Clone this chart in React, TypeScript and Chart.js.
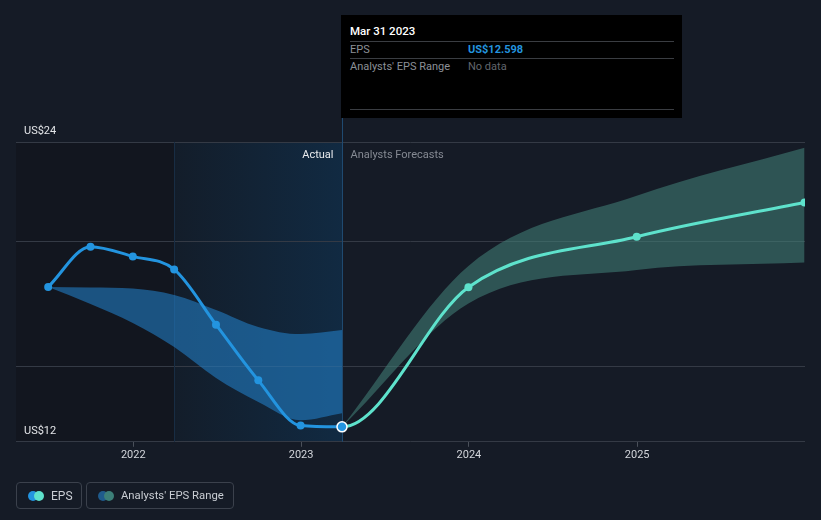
import React, { useEffect, useRef } from 'react';
import { Chart, registerables } from 'chart.js';

Chart.register(...registerables);

// ---- Data ----
const actualDates = ['2021-06-30', '2021-09-30', '2021-12-31', '2022-03-31', '2022-06-30', '2022-09-30', '2022-12-31', '2023-03-31'];
const epsActual = [18.2, 19.81, 19.42, 18.9, 16.69, 14.46, 12.65, 12.598];
const pastRangeHigh = [18.2, 18.18, 18.14, 17.88, 17.28, 16.6, 16.31, 16.47];
const pastRangeLow = [18.2, 17.52, 16.76, 15.79, 14.55, 13.59, 12.86, 13.14];

// first entry is the last-but-one actual point, used only as a hidden connector
const forecastDates = ['2022-12-31', '2023-03-31', '2023-12-31', '2024-12-31', '2025-12-31'];
const epsForecast = [12.65, 12.598, 18.19, 20.21, 21.58];

const rangeDates = ['2023-03-31', '2023-12-31', '2024-12-31', '2025-12-31'];
const forecastHigh = [12.598, 19.04, 21.85, 23.77];
const forecastLow = [12.598, 17.54, 18.88, 19.18];

const xTickYears = [2022, 2023, 2024, 2025];
const yGridValues = [12, 15, 20, 24];
const yTickLabels: Record<number, string> = { 12: 'US$12', 24: 'US$24' };

const X_MIN = '2021-04-21';
const X_MAX = '2026-01-01';
const HIGHLIGHT_START = '2022-03-31';
const LAST_ACTUAL = '2023-03-31';

const BLUE = '#2394df';
const TEAL = '#5ee2cc';
const BG = '#151b26';
const FONT = 'Roboto, "Open Sans", sans-serif';
const FS = 11;

const t = (d: string) => Date.parse(d + 'T00:00:00Z');
const pts = (dates: string[], vals: number[]) => dates.map((d, i) => ({ x: t(d), y: vals[i] }));

const bgPlugin = {
  id: 'bgPlugin',
  beforeDraw(chart: any) {
    const { ctx, chartArea: a, scales } = chart;
    const x = scales.x;
    ctx.save();
    ctx.fillStyle = BG;
    ctx.fillRect(0, 0, chart.width, chart.height);
    const xs = x.getPixelForValue(t(HIGHLIGHT_START));
    const xe = x.getPixelForValue(t(LAST_ACTUAL));
    ctx.fillStyle = '#12161f';
    ctx.fillRect(a.left, a.top, xs - a.left, a.bottom - a.top);
    const g = ctx.createLinearGradient(xs, 0, xe, 0);
    g.addColorStop(0, 'rgba(19, 29, 42, 1)');
    g.addColorStop(1, 'rgba(17, 42, 66, 1)');
    ctx.fillStyle = g;
    ctx.fillRect(xs, a.top, xe - xs, a.bottom - a.top);
    ctx.restore();
  },
  beforeDatasetsDraw(chart: any) {
    const { ctx, chartArea: a, scales } = chart;
    const x = scales.x;
    const xs = Math.round(x.getPixelForValue(t(HIGHLIGHT_START))) + 0.5;
    const xe = Math.round(x.getPixelForValue(t(LAST_ACTUAL))) + 0.5;
    ctx.save();
    ctx.lineWidth = 1;
    ctx.strokeStyle = '#182d44';
    ctx.beginPath();
    ctx.moveTo(xs, a.top);
    ctx.lineTo(xs, a.bottom);
    ctx.stroke();
    ctx.strokeStyle = '#1f4a70';
    ctx.beginPath();
    ctx.moveTo(xe, a.top - 25);
    ctx.lineTo(xe, a.bottom);
    ctx.stroke();
    ctx.font = FS + 'px ' + FONT;
    ctx.textBaseline = 'middle';
    ctx.textAlign = 'right';
    ctx.fillStyle = '#e8eaed';
    ctx.fillText('Actual', xe - 9, a.top + 13);
    ctx.textAlign = 'left';
    ctx.fillStyle = '#858a93';
    ctx.fillText('Analysts Forecasts', xe + 8, a.top + 13);
    ctx.restore();
  },
};

export default function App() {
  const ref = useRef<HTMLCanvasElement | null>(null);

  useEffect(() => {
    if (!ref.current) return;
    const lastIdx = epsActual.length - 1;
    const chart = new Chart(ref.current, {
      type: 'line',
      data: {
        datasets: [
          {
            label: 'EPS',
            data: pts(actualDates, epsActual),
            borderColor: BLUE,
            borderWidth: 3,
            backgroundColor: BLUE,
            pointBackgroundColor: BLUE,
            pointBorderColor: epsActual.map((_, i) => (i === lastIdx ? '#ffffff' : BLUE)),
            pointBorderWidth: epsActual.map((_, i) => (i === lastIdx ? 1.5 : 0)),
            pointRadius: epsActual.map((_, i) => (i === lastIdx ? 5 : 4)),
            cubicInterpolationMode: 'monotone',
            fill: false,
            order: 0,
          },
          {
            label: 'EPS forecast',
            data: pts(forecastDates, epsForecast),
            borderColor: TEAL,
            borderWidth: 3,
            backgroundColor: TEAL,
            pointBackgroundColor: TEAL,
            pointBorderWidth: 0,
            pointRadius: epsForecast.map((_, i) => (i < 2 ? 0 : 4)),
            cubicInterpolationMode: 'monotone',
            segment: {
              borderColor: (c: any) => (c.p0DataIndex === 0 ? 'rgba(0,0,0,0)' : TEAL),
            },
            fill: false,
            order: 1,
          },
          {
            label: 'Past range high',
            data: pts(actualDates, pastRangeHigh),
            borderWidth: 0,
            borderColor: 'rgba(0,0,0,0)',
            pointRadius: 0,
            cubicInterpolationMode: 'monotone',
            fill: false,
            order: 3,
          },
          {
            label: 'Past range low',
            data: pts(actualDates, pastRangeLow),
            borderWidth: 0,
            borderColor: 'rgba(0,0,0,0)',
            backgroundColor: 'rgba(35, 128, 200, 0.58)',
            pointRadius: 0,
            cubicInterpolationMode: 'monotone',
            fill: 2,
            order: 3,
          },
          {
            label: 'Forecast range high',
            data: pts(rangeDates, forecastHigh),
            borderWidth: 0,
            borderColor: 'rgba(0,0,0,0)',
            pointRadius: 0,
            cubicInterpolationMode: 'monotone',
            fill: false,
            order: 3,
          },
          {
            label: 'Forecast range low',
            data: pts(rangeDates, forecastLow),
            borderWidth: 0,
            borderColor: 'rgba(0,0,0,0)',
            backgroundColor: 'rgba(68, 132, 122, 0.55)',
            pointRadius: 0,
            cubicInterpolationMode: 'monotone',
            fill: 4,
            order: 3,
          },
        ],
      } as any,
      options: {
        responsive: false,
        animation: false,
        events: [],
        layout: { padding: { left: 0, right: 16, top: 142, bottom: 56 } },
        plugins: {
          legend: { display: false },
          tooltip: { enabled: false },
        },
        scales: {
          x: {
            type: 'linear',
            min: t(X_MIN),
            max: t(X_MAX),
            afterBuildTicks: (s: any) => {
              s.ticks = xTickYears.map((y) => ({ value: Date.UTC(y, 0, 1) }));
            },
            ticks: {
              callback: (v: any) => String(new Date(v).getUTCFullYear()),
              color: '#d3d6db',
              font: { family: FONT, size: FS },
              padding: 2,
              maxRotation: 0,
              autoSkip: false,
            },
            grid: {
              drawOnChartArea: false,
              drawTicks: true,
              tickLength: 5,
              color: '#4a505a',
            },
            border: { display: false },
          },
          y: {
            type: 'linear',
            min: 12,
            max: 24,
            afterBuildTicks: (s: any) => {
              s.ticks = yGridValues.map((v) => ({ value: v }));
            },
            ticks: {
              mirror: true,
              padding: 8,
              labelOffset: -11,
              callback: (v: any) => yTickLabels[v as number] || '',
              color: '#e3e5e8',
              font: { family: FONT, size: FS },
            },
            grid: { drawTicks: false, color: '#343a45' },
            border: { display: false },
          },
        },
      } as any,
      plugins: [bgPlugin],
    });
    return () => chart.destroy();
  }, []);

  const sep = (top: number) => (
    <div style={{ position: 'absolute', left: 9, width: 324, top, height: 1, background: '#3a3d42' }} />
  );
  const txt = (left: number, top: number, color: string, content: string, weight = 400) => (
    <div style={{ position: 'absolute', left, top, height: 16, lineHeight: '16px', color, fontWeight: weight, whiteSpace: 'nowrap' }}>{content}</div>
  );

  return (
    <div style={{ position: 'fixed', left: 0, top: 0, width: 821, height: 520, background: BG, fontFamily: FONT, fontSize: FS, overflow: 'hidden' }}>
      <canvas ref={ref} width={821} height={520} style={{ position: 'absolute', left: 0, top: 0, width: 821, height: 520 }} />
      <div style={{ position: 'absolute', left: 341, top: 15, width: 341, height: 103, background: '#000' }}>
        <div style={{ position: 'absolute', left: 9, top: 8, height: 16, lineHeight: '16px', color: '#fff', fontSize: 11.5, fontWeight: 500, whiteSpace: 'nowrap' }}>{'Mar 31 2023'}</div>
        {sep(26)}
        {txt(9, 27, '#8c9097', 'EPS')}
        {txt(127, 27, BLUE, 'US$' + epsActual[epsActual.length - 1].toFixed(3), 700)}
        {sep(43)}
        {txt(9, 44, '#8c9097', "Analysts' EPS Range")}
        {txt(127, 44, '#62666d', 'No data')}
        {sep(94)}
      </div>
      <div style={{ position: 'absolute', left: 16, top: 482, width: 66, height: 27, boxSizing: 'border-box', border: '1px solid #3b414c', borderRadius: 4 }}>
        <div style={{ position: 'absolute', left: 11, top: 8, width: 10, height: 10, borderRadius: 5, background: BLUE }} />
        <div style={{ position: 'absolute', left: 17, top: 8, width: 10, height: 10, borderRadius: 5, background: TEAL }} />
        <div style={{ position: 'absolute', left: 34, top: 5, lineHeight: '16px', color: '#c9cdd3', fontSize: 12 }}>EPS</div>
      </div>
      <div style={{ position: 'absolute', left: 86, top: 482, width: 148, height: 27, boxSizing: 'border-box', border: '1px solid #3b414c', borderRadius: 4 }}>
        <div style={{ position: 'absolute', left: 11, top: 8, width: 10, height: 10, borderRadius: 5, background: '#1f5b8c' }} />
        <div style={{ position: 'absolute', left: 17, top: 8, width: 10, height: 10, borderRadius: 5, background: '#3c7f78' }} />
        <div style={{ position: 'absolute', left: 34, top: 5, lineHeight: '16px', color: '#c9cdd3', fontSize: 11.3 }}>Analysts' EPS Range</div>
      </div>
    </div>
  );
}
